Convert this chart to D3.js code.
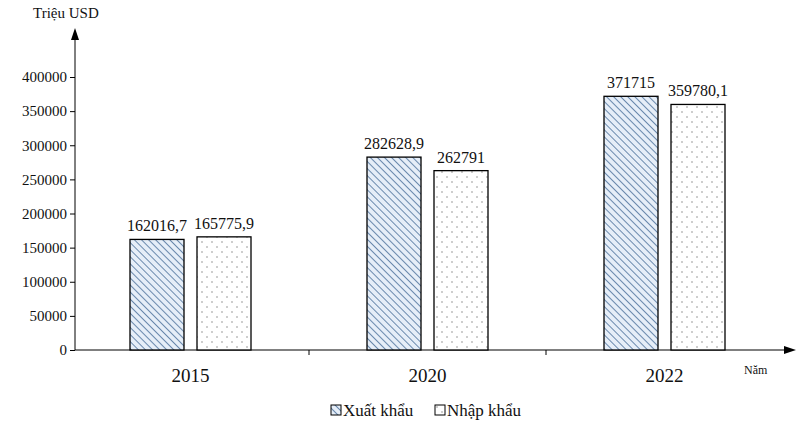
<!DOCTYPE html><html><head><meta charset="utf-8"><script src="https://cdn.jsdelivr.net/npm/d3@7"></script>
<style>body{margin:0;background:#fff}text{font-family:"Liberation Serif","Times New Roman",serif;fill:#111}</style></head><body>
<svg id="c" width="800" height="428"></svg>
<script>
const years=["2015","2020","2022"];
const xuatKhau=[162016.7,282628.9,371715];
const nhapKhau=[165775.9,262791,359780.1];
const xkLabels=["162016,7","282628,9","371715"];
const nkLabels=["165775,9","262791","359780,1"];
const yTicks=[0,50000,100000,150000,200000,250000,300000,350000,400000];
const svg=d3.select("#c");
const defs=svg.append("defs");
const ph=defs.append("pattern").attr("id","hatch").attr("patternUnits","userSpaceOnUse").attr("width",5).attr("height",5).attr("patternTransform","rotate(-45)");
ph.append("rect").attr("width",5).attr("height",5).attr("fill","#e6eef8");
ph.append("line").attr("x1",0).attr("y1",0).attr("x2",0).attr("y2",5).attr("stroke","#4a6f9a").attr("stroke-width",1.6);
const pd=defs.append("pattern").attr("id","dots").attr("patternUnits","userSpaceOnUse").attr("width",10).attr("height",10);
pd.append("rect").attr("width",10).attr("height",10).attr("fill","#fff");
pd.append("circle").attr("cx",2).attr("cy",2).attr("r",0.7).attr("fill","#777");
pd.append("circle").attr("cx",7).attr("cy",7).attr("r",0.7).attr("fill","#777");
const x=d3.scaleBand().domain(years).range([72,783]);
const y=d3.scaleLinear().domain([0,400000]).range([350,77]);
const bw=54,gap=13;
svg.append("line").attr("x1",75).attr("x2",75).attr("y1",350).attr("y2",36).attr("stroke","#000");
svg.append("path").attr("d","M75,28 L71,40 L79,40Z").attr("fill","#000");
svg.append("line").attr("x1",75).attr("x2",786).attr("y1",350).attr("y2",350).attr("stroke","#000");
svg.append("path").attr("d","M796,350 L784,346 L784,354Z").attr("fill","#000");
const ya=svg.append("g").attr("transform","translate(75,0)").call(d3.axisLeft(y).tickValues(yTicks).tickSize(5).tickFormat(d=>d));
ya.select(".domain").remove();
ya.selectAll("text").style("font-size","15px").style("font-family","Liberation Serif");
[x("2020"),x("2022")].forEach(v=>svg.append("line").attr("x1",v).attr("x2",v).attr("y1",350).attr("y2",355).attr("stroke","#000"));
years.forEach((yr,i)=>{
 const c=x(yr)+x.bandwidth()/2;
 svg.append("text").attr("x",c).attr("y",382).attr("text-anchor","middle").style("font-size","19px").text(yr);
 const x1=c-gap/2-bw, x2=c+gap/2;
 svg.append("rect").attr("x",x1).attr("y",y(xuatKhau[i])).attr("width",bw).attr("height",350-y(xuatKhau[i])).attr("fill","url(#hatch)").attr("stroke","#000").attr("stroke-width",1.3);
 svg.append("rect").attr("x",x2).attr("y",y(nhapKhau[i])).attr("width",bw).attr("height",350-y(nhapKhau[i])).attr("fill","url(#dots)").attr("stroke","#000").attr("stroke-width",1.3);
 svg.append("text").attr("x",x1+bw/2).attr("y",y(xuatKhau[i])-8).attr("text-anchor","middle").style("font-size","16px").text(xkLabels[i]);
 svg.append("text").attr("x",x2+bw/2).attr("y",y(nhapKhau[i])-8).attr("text-anchor","middle").style("font-size","16px").text(nkLabels[i]);
});
svg.append("text").attr("x",33).attr("y",18).style("font-size","15px").text("Triệu USD");
svg.append("text").attr("x",744).attr("y",374).style("font-size","12px").text("Năm");
svg.append("rect").attr("x",331).attr("y",405).attr("width",10).attr("height",10).attr("fill","url(#hatch)").attr("stroke","#000");
svg.append("text").attr("x",343).attr("y",416).style("font-size","17px").text("Xuất khẩu");
svg.append("rect").attr("x",435).attr("y",405).attr("width",10).attr("height",10).attr("fill","url(#dots)").attr("stroke","#000");
svg.append("text").attr("x",447).attr("y",416).style("font-size","17px").text("Nhập khẩu");
</script></body></html>
